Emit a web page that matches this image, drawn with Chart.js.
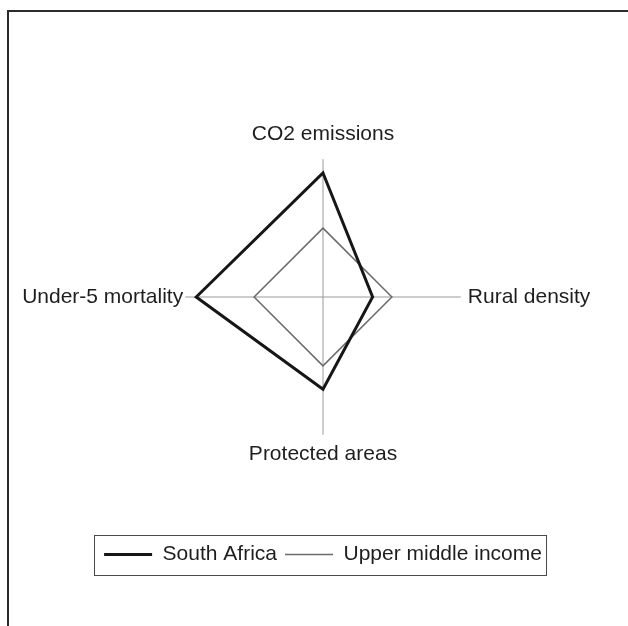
<!DOCTYPE html>
<html>
<head>
<meta charset="utf-8">
<script src="https://cdn.jsdelivr.net/npm/chart.js@4/dist/chart.umd.min.js"></script>
<style>
  html, body { margin: 0; padding: 0; background: #fff; overflow: hidden; width: 628px; height: 626px; }
  #wrap { position: relative; width: 628px; height: 626px; overflow: hidden; }
  /* scanned page frame: only left and top edges show */
  #frame { position: absolute; left: 7px; top: 10px; width: 700px; height: 700px;
           border-left: 2px solid #2b2b2b; border-top: 2px solid #2b2b2b; }
  /* canvas is wider than the page so the labels never squeeze the radar sideways */
  #chart { position: absolute; left: -47px; top: 0; }
</style>
</head>
<body>
<div id="wrap">
  <div id="frame"></div>
  <canvas id="chart" width="740" height="626"></canvas>
</div>
<script>
// Radar axes, clockwise from the top
const axisLabels = ['CO2 emissions', 'Rural density', 'Protected areas', 'Under-5 mortality'];

// Values (0-100 scale, upper middle income = 50)
const southAfrica = [90, 36, 67, 92];
const upperMiddleIncome = [50, 50, 50, 50];

// Gap between axis end and each label (top, right, bottom, left)
const labelPad = [12, 7, 7, 2];

const textColor = '#1e1e1e';
const labelFont = { family: '"Liberation Sans", Arial, sans-serif', size: 21 };

// Draws the thin box round the legend entries
const legendFrame = {
    id: 'legendFrame',
    afterDraw(chart) {
        const boxes = chart.legend && chart.legend.legendHitBoxes;
        if (!boxes || !boxes.length) return;
        const first = boxes[0];
        const last = boxes[boxes.length - 1];
        const left = first.left - 10;
        const right = last.left + last.width + 4;
        const top = first.top - 9;
        const ctx = chart.ctx;
        ctx.save();
        ctx.strokeStyle = '#4a4a4a';
        ctx.lineWidth = 1;
        ctx.strokeRect(Math.round(left) + 0.5, Math.round(top) + 0.5, Math.round(right - left), 40);
        ctx.restore();
    }
};

new Chart(document.getElementById('chart'), {
    type: 'radar',
    data: {
        labels: axisLabels,
        datasets: [
            {
                label: 'South Africa',
                data: southAfrica,
                borderColor: '#161616',
                borderWidth: 3,
                fill: false,
                pointRadius: 0,
                tension: 0
            },
            {
                label: 'Upper middle income',
                data: upperMiddleIncome,
                borderColor: '#6a6a6a',
                borderWidth: 1.5,
                fill: false,
                pointRadius: 0,
                tension: 0
            }
        ]
    },
    options: {
        responsive: false,
        animation: false,
        layout: { padding: { left: 0, right: 0, top: 120, bottom: 51 } },
        scales: {
            r: {
                min: 0,
                max: 100,
                startAngle: 0,
                ticks: { display: false },
                grid: { display: false },
                angleLines: { display: true, color: '#9a9a9a', lineWidth: 1 },
                pointLabels: {
                    color: textColor,
                    font: labelFont,
                    padding: ctx => labelPad[ctx.index]
                }
            }
        },
        plugins: {
            tooltip: { enabled: false },
            legend: {
                position: 'bottom',
                title: { display: true, text: '', padding: { top: 0, bottom: 51.6 } },
                labels: {
                    color: textColor,
                    font: labelFont,
                    usePointStyle: true,
                    pointStyle: 'line',
                    pointStyleWidth: 48,
                    padding: 8
                }
            }
        }
    },
    plugins: [legendFrame]
});
</script>
</body>
</html>
